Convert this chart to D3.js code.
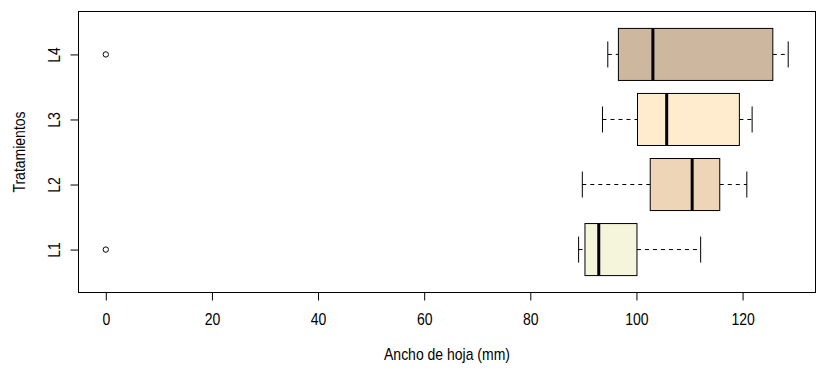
<!DOCTYPE html>
<html>
<head>
<meta charset="utf-8">
<script src="https://cdn.jsdelivr.net/npm/d3@7"></script>
<style>
  html, body { margin: 0; padding: 0; background: #fff; }
  svg { display: block; font-family: "Liberation Sans", Arial, sans-serif; }
</style>
</head>
<body>
<svg id="chart" width="817" height="370"></svg>
<script>
// Treatments, bottom to top
const categories = ["L1", "L2", "L3", "L4"];
// Five-number summaries (mm): lower whisker, Q1, median, Q3, upper whisker
const whiskerLow  = [89.1, 89.8, 93.6, 94.6];
const q1          = [90.3, 102.6, 100.2, 96.6];
const median      = [92.9, 110.5, 105.7, 103.1];
const q3          = [100.1, 115.7, 119.4, 125.7];
const whiskerHigh = [112.1, 120.8, 121.8, 128.6];
// Outlying points per treatment
const outliers    = [[0], [], [], [0]];
const fills       = ["#F5F5DC", "#EED5B7", "#FFEBCD", "#CDB79E"];
const xTicks      = [0, 20, 40, 60, 80, 100, 120];

const svg = d3.select("#chart");
const plot = { left: 78.5, right: 815.5, top: 11.5, bottom: 292.5 };
const fontSize = 14;
const stretch = 1.15; // slightly tall glyphs

// R-style 4% padding around the data range
const dataMin = 0, dataMax = d3.max(whiskerHigh);
const pad = (dataMax - dataMin) * 0.04;
const x = d3.scaleLinear().domain([dataMin - pad, dataMax + pad]).range([plot.left, plot.right]);
const y = d3.scaleLinear().domain([0.5 - 0.16, 4.5 + 0.16]).range([plot.bottom, plot.top]);

const boxHalf = 0.4;
const capHalf = 0.2;

const g = svg.append("g");

categories.forEach((c, i) => {
  const pos = i + 1;
  const yc = y(pos);
  const dash = "4,4";
  // whiskers
  g.append("line").attr("x1", x(whiskerLow[i])).attr("x2", x(q1[i]))
    .attr("y1", yc).attr("y2", yc).attr("stroke", "#000").attr("stroke-dasharray", dash);
  g.append("line").attr("x1", x(q3[i])).attr("x2", x(whiskerHigh[i]))
    .attr("y1", yc).attr("y2", yc).attr("stroke", "#000").attr("stroke-dasharray", dash);
  // caps
  [whiskerLow[i], whiskerHigh[i]].forEach(v => {
    g.append("line").attr("x1", x(v)).attr("x2", x(v))
      .attr("y1", y(pos - capHalf)).attr("y2", y(pos + capHalf)).attr("stroke", "#000");
  });
  // box
  g.append("rect")
    .attr("x", x(q1[i])).attr("width", x(q3[i]) - x(q1[i]))
    .attr("y", y(pos + boxHalf)).attr("height", y(pos - boxHalf) - y(pos + boxHalf))
    .attr("fill", fills[i]).attr("stroke", "#000").attr("stroke-width", 1);
  // median
  g.append("line").attr("x1", x(median[i])).attr("x2", x(median[i]))
    .attr("y1", y(pos + boxHalf)).attr("y2", y(pos - boxHalf))
    .attr("stroke", "#000").attr("stroke-width", 3);
  // outliers
  outliers[i].forEach(v => {
    g.append("circle").attr("cx", x(v)).attr("cy", yc).attr("r", 2.7)
      .attr("fill", "none").attr("stroke", "#000").attr("stroke-width", 1);
  });
});

// frame
svg.append("rect").attr("x", plot.left).attr("y", plot.top)
  .attr("width", plot.right - plot.left).attr("height", plot.bottom - plot.top)
  .attr("fill", "none").attr("stroke", "#000");

// x axis
const xAxis = d3.axisBottom(x).tickValues(xTicks).tickSize(8).tickFormat(d3.format("d"));
const xg = svg.append("g").attr("transform", `translate(0,${plot.bottom})`).call(xAxis);
xg.select(".domain").remove();
xg.selectAll("line").attr("stroke", "#000");
xg.selectAll("text").remove();
xg.selectAll(".tick").append("text")
  .attr("transform", `translate(0,32) scale(1,${stretch})`)
  .attr("text-anchor", "middle")
  .attr("font-size", fontSize).attr("fill", "#000")
  .attr("font-family", "Liberation Sans, Arial, sans-serif")
  .text(d => d3.format("d")(d));

// y axis
const yAxis = d3.axisLeft(y).tickValues([1, 2, 3, 4]).tickSize(8);
const yg = svg.append("g").attr("transform", `translate(${plot.left},0)`).call(yAxis);
yg.select(".domain").remove();
yg.selectAll("line").attr("stroke", "#000");
yg.selectAll("text").remove();
yg.selectAll(".tick").append("text")
  .attr("transform", `translate(-19,0) rotate(-90) scale(1,${stretch})`)
  .attr("text-anchor", "middle")
  .attr("font-size", fontSize).attr("fill", "#000")
  .attr("font-family", "Liberation Sans, Arial, sans-serif")
  .text((d, i) => categories[i]);

// axis titles
svg.append("text")
  .attr("transform", `translate(${(plot.left + plot.right) / 2},360) scale(1,${stretch})`)
  .attr("text-anchor", "middle").attr("font-size", fontSize).attr("fill", "#000")
  .text("Ancho de hoja (mm)");
svg.append("text")
  .attr("transform", `translate(24.5,${(plot.top + plot.bottom) / 2}) rotate(-90) scale(1,${stretch})`)
  .attr("text-anchor", "middle").attr("font-size", fontSize).attr("fill", "#000")
  .text("Tratamientos");
</script>
</body>
</html>
